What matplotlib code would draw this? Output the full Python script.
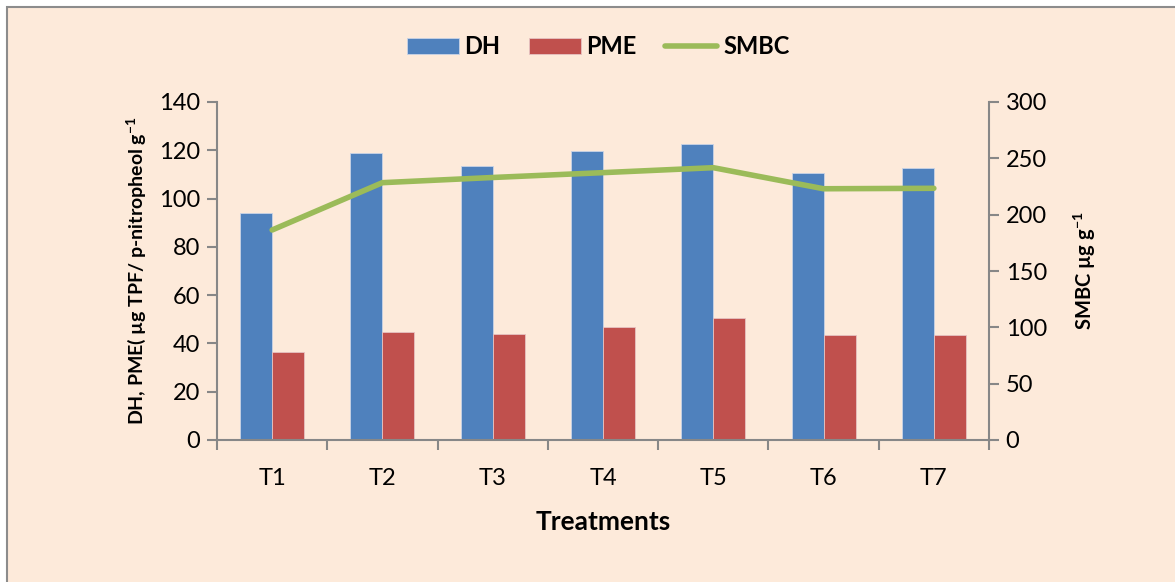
import numpy as np
import matplotlib
matplotlib.use('Agg')
from matplotlib import pyplot as plt
from matplotlib.patches import Rectangle

# dane
treatments = ['T1', 'T2', 'T3', 'T4', 'T5', 'T6', 'T7']
dh = [93.9, 118.8, 113.5, 119.7, 122.6, 110.6, 112.8]
pme = [36.3, 44.6, 44.0, 46.9, 50.5, 43.4, 43.6]
smbc = [186.4, 228.4, 233.0, 237.3, 241.7, 223.0, 223.4]

plt.rcParams['font.family'] = ['Lato', 'DejaVu Sans']
plt.rcParams['mathtext.fontset'] = 'custom'
plt.rcParams['mathtext.bf'] = 'Lato:bold'
plt.rcParams['mathtext.rm'] = 'Lato'
bg = '#FDEADA'
axis_col = '#878787'

fig = plt.figure(figsize=(11.75, 5.82), dpi=100)
fig.patch.set_facecolor('white')
fig.patches.append(Rectangle((7 / 1175, -0.05), 1.1, 1.05 - 7 / 582,
                             transform=fig.transFigure, facecolor=bg,
                             edgecolor='#8c8c8c', linewidth=1.5, zorder=-10))

ax = fig.add_axes([217 / 1175, 1 - 440 / 582, (989 - 217) / 1175, (440 - 102) / 582])
ax.set_facecolor('none')
x = np.arange(len(treatments))
w = 0.29
ax.bar(x - w / 2, dh, w, color='#4F81BD', edgecolor='#c9d4e6', linewidth=0.6, label='DH', zorder=2)
ax.bar(x + w / 2, pme, w, color='#C0504D', edgecolor='#e6c3c2', linewidth=0.6, label='PME', zorder=2)

ax.set_xlim(-0.5, 6.5)
ax.set_ylim(0, 140)
ax.set_yticks(np.arange(0, 141, 20))
ax.set_xticks(x)
ax.set_xticklabels(treatments)
ax.set_xticks(np.arange(-0.5, 7, 1), minor=True)
ax.tick_params(axis='x', which='major', length=0, pad=20, labelsize=17)
ax.tick_params(axis='x', which='minor', length=7, width=1.5, color=axis_col, direction='out')
ax.tick_params(axis='y', length=7, width=1.5, color=axis_col, labelsize=17, pad=5)
for s in ['top', 'right']:
    ax.spines[s].set_visible(False)
for s in ['left', 'bottom']:
    ax.spines[s].set_color(axis_col)
    ax.spines[s].set_linewidth(1.5)

ax.set_ylabel('DH, PME( µg TPF/ p-nitropheol g$^{\\mathbf{-1}}$', fontsize=14,
              fontweight='bold', labelpad=8)
ax.set_xlabel('Treatments', fontsize=19, fontweight='bold', labelpad=15)

ax2 = ax.twinx()
ax2.plot(x, smbc, color='#9BBB59', linewidth=4, solid_capstyle='round', label='SMBC', zorder=3)
ax2.set_ylim(0, 300)
ax2.set_yticks(np.arange(0, 301, 50))
ax2.tick_params(axis='y', length=7, width=1.5, color=axis_col, labelsize=17, pad=5)
for s in ['top', 'left', 'bottom']:
    ax2.spines[s].set_visible(False)
ax2.spines['right'].set_color(axis_col)
ax2.spines['right'].set_linewidth(1.5)
ax2.set_ylabel('SMBC µg g$^{\\mathbf{-1}}$', fontsize=14.5, fontweight='bold', labelpad=18)

h1, l1 = ax.get_legend_handles_labels()
h2, l2 = ax2.get_legend_handles_labels()
leg = fig.legend(h1 + h2, l1 + l2, loc='center', bbox_to_anchor=(598 / 1175, 1 - 47 / 582),
                 ncol=3, frameon=False, prop={'weight': 'bold', 'size': 17},
                 handlelength=2.2, handleheight=0.65, columnspacing=1.2, handletextpad=0.25)

fig.savefig('out.png', dpi=100, facecolor=fig.get_facecolor())
